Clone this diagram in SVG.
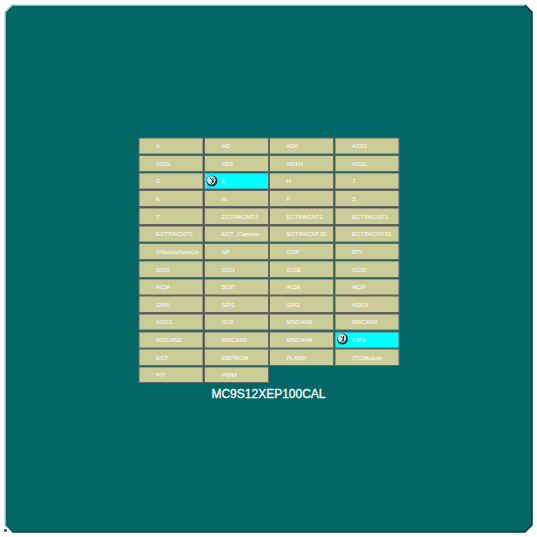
<svg xmlns="http://www.w3.org/2000/svg" width="537" height="537" viewBox="0 0 537 537">
<style>
.c{fill:#cccc99;stroke:#666666;stroke-width:1}
.h{fill:#00ffff;stroke:#666666;stroke-width:1}
.t{font-family:"Liberation Sans",Arial,sans-serif;font-size:6.2px;fill:#ffffff}
.s{fill:none;stroke-width:1.5}
</style>
<defs>
<g id="icon"><circle r="5.5" fill="#1a3a3a"/><circle cx="-0.7" cy="-0.7" r="4.2" fill="#d8e4e4"/><path d="M-2-3L1 0L-1 3M1-3L1 2" fill="none" stroke="#1a3a3a" stroke-width="1"/></g>
</defs>
<rect width="537" height="537" fill="#ffffff"/>
<g id="board">
<path d="M12 5H525L532 12V525L525 532H12L5 525V12Z" fill="#006666"/>
<path class="s" d="M5 525V12L12 5H525" stroke="#b8d8d8"/>
<path class="s" d="M525 5L532 12V525L525 532H12" stroke="#003c3c"/>
<rect x="4" y="529" width="3" height="3" fill="#666666"/>
</g>
<g id="cells">
<g id="n0"><rect class="c" x="139" y="138" width="64" height="16"/><text class="t" x="156" y="148">A</text></g>
<g id="n1"><rect class="c" x="204.500" y="138" width="64" height="16"/><text class="t" x="221.500" y="148">AD</text></g>
<g id="n2"><rect class="c" x="269.500" y="138" width="64" height="16"/><text class="t" x="286.500" y="148">AD0</text></g>
<g id="n3"><rect class="c" x="335" y="138" width="64" height="16"/><text class="t" x="352" y="148">AD01</text></g>
<g id="n4"><rect class="c" x="139" y="155.500" width="64" height="16"/><text class="t" x="156" y="165.500">AD0L</text></g>
<g id="n5"><rect class="c" x="204.500" y="155.500" width="64" height="16"/><text class="t" x="221.500" y="165.500">AD1</text></g>
<g id="n6"><rect class="c" x="269.500" y="155.500" width="64" height="16"/><text class="t" x="286.500" y="165.500">AD1H</text></g>
<g id="n7"><rect class="c" x="335" y="155.500" width="64" height="16"/><text class="t" x="352" y="165.500">AD1L</text></g>
<g id="n8"><rect class="c" x="139" y="173" width="64" height="16"/><text class="t" x="156" y="183">D</text></g>
<g id="n9"><rect class="h" x="204.500" y="173" width="64" height="16"/><use href="#icon" x="212" y="181"/><text class="t" x="221.500" y="183">E</text></g>
<g id="n10"><rect class="c" x="269.500" y="173" width="64" height="16"/><text class="t" x="286.500" y="183">H</text></g>
<g id="n11"><rect class="c" x="335" y="173" width="64" height="16"/><text class="t" x="352" y="183">J</text></g>
<g id="n12"><rect class="c" x="139" y="190.500" width="64" height="16"/><text class="t" x="156" y="200.500">K</text></g>
<g id="n13"><rect class="c" x="204.500" y="190.500" width="64" height="16"/><text class="t" x="221.500" y="200.500">M</text></g>
<g id="n14"><rect class="c" x="269.500" y="190.500" width="64" height="16"/><text class="t" x="286.500" y="200.500">P</text></g>
<g id="n15"><rect class="c" x="335" y="190.500" width="64" height="16"/><text class="t" x="352" y="200.500">S</text></g>
<g id="n16"><rect class="c" x="139" y="208" width="64" height="16.500"/><text class="t" x="156" y="218.500">T</text></g>
<g id="n17"><rect class="c" x="204.500" y="208" width="64" height="16.500"/><text class="t" x="221.500" y="218.500">ECTPACNT3</text></g>
<g id="n18"><rect class="c" x="269.500" y="208" width="64" height="16.500"/><text class="t" x="286.500" y="218.500">ECTPACNT2</text></g>
<g id="n19"><rect class="c" x="335" y="208" width="64" height="16.500"/><text class="t" x="352" y="218.500">ECTPACNT1</text></g>
<g id="n20"><rect class="c" x="139" y="226" width="64" height="16"/><text class="t" x="156" y="236">ECTPACNT0</text></g>
<g id="n21"><rect class="c" x="204.500" y="226" width="64" height="16"/><text class="t" x="221.500" y="236">ECT_Capture</text></g>
<g id="n22"><rect class="c" x="269.500" y="226" width="64" height="16"/><text class="t" x="286.500" y="236">ECTPACNT32</text></g>
<g id="n23"><rect class="c" x="335" y="226" width="64" height="16"/><text class="t" x="352" y="236">ECTPACNT01</text></g>
<g id="n24"><rect class="c" x="139" y="243.500" width="64" height="16"/><text class="t" x="156" y="253.500" style="font-size:4.900px">D/ModularDownCnt</text></g>
<g id="n25"><rect class="c" x="204.500" y="243.500" width="64" height="16"/><text class="t" x="221.500" y="253.500">SP</text></g>
<g id="n26"><rect class="c" x="269.500" y="243.500" width="64" height="16"/><text class="t" x="286.500" y="253.500">COP</text></g>
<g id="n27"><rect class="c" x="335" y="243.500" width="64" height="16"/><text class="t" x="352" y="253.500">RTI</text></g>
<g id="n28"><rect class="c" x="139" y="261" width="64" height="16.500"/><text class="t" x="156" y="271.500">SCI0</text></g>
<g id="n29"><rect class="c" x="204.500" y="261" width="64" height="16.500"/><text class="t" x="221.500" y="271.500">SCI1</text></g>
<g id="n30"><rect class="c" x="269.500" y="261" width="64" height="16.500"/><text class="t" x="286.500" y="271.500">SCIE</text></g>
<g id="n31"><rect class="c" x="335" y="261" width="64" height="16.500"/><text class="t" x="352" y="271.500">SCID</text></g>
<g id="n32"><rect class="c" x="139" y="279" width="64" height="16"/><text class="t" x="156" y="289">ACIA</text></g>
<g id="n33"><rect class="c" x="204.500" y="279" width="64" height="16"/><text class="t" x="221.500" y="289">SCI7</text></g>
<g id="n34"><rect class="c" x="269.500" y="279" width="64" height="16"/><text class="t" x="286.500" y="289">ACIE</text></g>
<g id="n35"><rect class="c" x="335" y="279" width="64" height="16"/><text class="t" x="352" y="289">ACIF</text></g>
<g id="n36"><rect class="c" x="139" y="296" width="64" height="16.500"/><text class="t" x="156" y="306.500">SPI0</text></g>
<g id="n37"><rect class="c" x="204.500" y="296" width="64" height="16.500"/><text class="t" x="221.500" y="306.500">SPI1</text></g>
<g id="n38"><rect class="c" x="269.500" y="296" width="64" height="16.500"/><text class="t" x="286.500" y="306.500">SPI2</text></g>
<g id="n39"><rect class="c" x="335" y="296" width="64" height="16.500"/><text class="t" x="352" y="306.500">ADC0</text></g>
<g id="n40"><rect class="c" x="139" y="314" width="64" height="16"/><text class="t" x="156" y="324">ADC1</text></g>
<g id="n41"><rect class="c" x="204.500" y="314" width="64" height="16"/><text class="t" x="221.500" y="324">IIC0</text></g>
<g id="n42"><rect class="c" x="269.500" y="314" width="64" height="16"/><text class="t" x="286.500" y="324">MSCAN0</text></g>
<g id="n43"><rect class="c" x="335" y="314" width="64" height="16"/><text class="t" x="352" y="324">MSCAN1</text></g>
<g id="n44"><rect class="c" x="139" y="332" width="64" height="16"/><text class="t" x="156" y="342">MSCAN2</text></g>
<g id="n45"><rect class="c" x="204.500" y="332" width="64" height="16"/><text class="t" x="221.500" y="342">MSCAN3</text></g>
<g id="n46"><rect class="c" x="269.500" y="332" width="64" height="16"/><text class="t" x="286.500" y="342">MSCAN4</text></g>
<g id="n47"><rect class="h" x="335" y="332" width="64" height="16"/><use href="#icon" x="342.500" y="339"/><text class="t" x="352" y="342">CPU</text></g>
<g id="n48"><rect class="c" x="139" y="349" width="64" height="16.500"/><text class="t" x="156" y="359.500">ECT</text></g>
<g id="n49"><rect class="c" x="204.500" y="349" width="64" height="16.500"/><text class="t" x="221.500" y="359.500">EEPROM</text></g>
<g id="n50"><rect class="c" x="269.500" y="349" width="64" height="16.500"/><text class="t" x="286.500" y="359.500">FLASH</text></g>
<g id="n51"><rect class="c" x="335" y="349" width="64" height="16.500"/><text class="t" x="352" y="359.500">ITCModule</text></g>
<g id="n52"><rect class="c" x="139" y="367" width="64" height="15.500"/><text class="t" x="156" y="377">PIT</text></g>
<g id="n53"><rect class="c" x="204.500" y="367" width="64" height="15.500"/><text class="t" x="221.500" y="377">PWM</text></g>
</g>
<g id="connectors"></g>
<text id="title" x="268.500" y="397.500" text-anchor="middle" style="font-family:'Liberation Sans',Arial,sans-serif;font-size:12px;fill:#ffffff;stroke:#ffffff;stroke-width:0.3">MC9S12XEP100CAL</text>
</svg>
